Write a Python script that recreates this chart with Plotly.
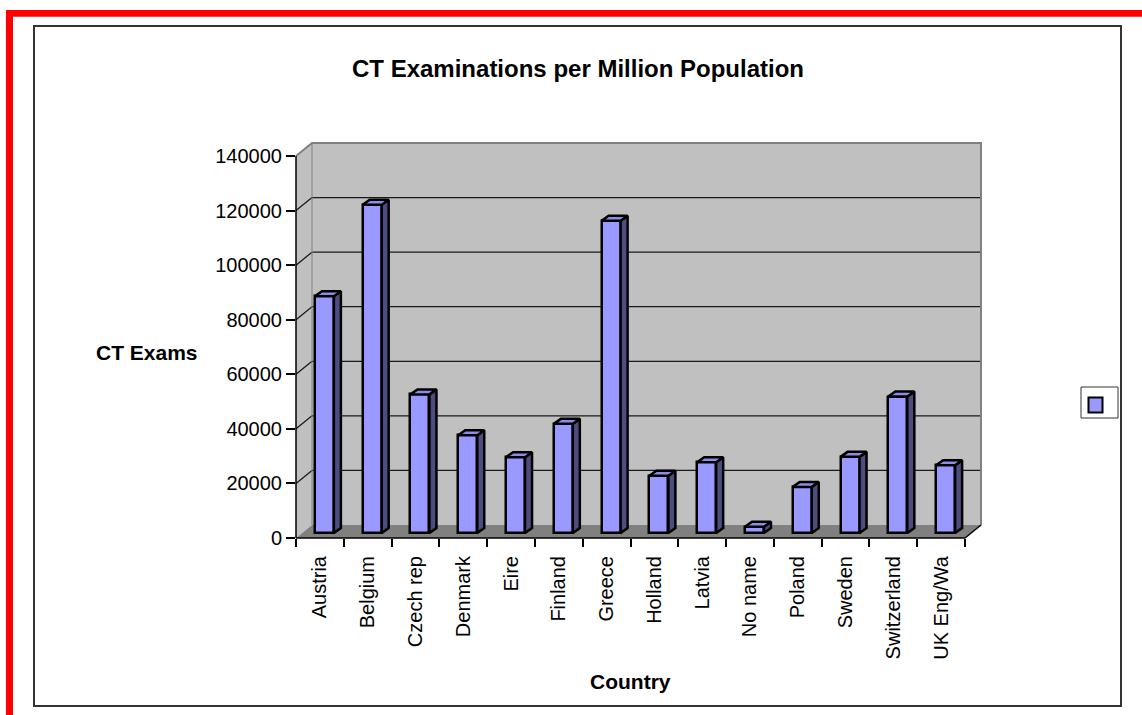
import plotly.graph_objects as go

# ---------------- data ----------------
countries = ["Austria", "Belgium", "Czech rep", "Denmark", "Eire", "Finland", "Greece",
             "Holland", "Latvia", "No name", "Poland", "Sweden", "Switzerland", "UK Eng/Wa"]
ct_exams = [86800, 120300, 50800, 35800, 27800, 40000, 114400,
            21000, 25900, 2300, 16900, 27900, 50000, 24800]
y_ticks = [0, 20000, 40000, 60000, 80000, 100000, 120000, 140000]
y_tick_labels = [str(v) for v in y_ticks]

# ---------------- geometry (pixels) ----------------
W, H = 1142, 715
FRONT_L, FRONT_R = 296, 965       # front category axis
FRONT_BOTTOM, FRONT_TOP = 538, 156  # px of 0 and of last tick on front axis
WALL_DX, WALL_DY = 16, 13         # depth of the 3-D box in px
BAR_OFF_X, BAR_OFF_Y = 4.5, 5     # bar front face offset into depth
BAR_DEPTH_X, BAR_DEPTH_Y = 7, 5   # bar depth
BAR_W = 19

n = len(countries)
ux = (FRONT_R - FRONT_L) / n
uy = (FRONT_BOTTOM - FRONT_TOP) / y_ticks[-1]
DX, DY = WALL_DX / ux, WALL_DY / uy
x_lo, x_hi = -0.5, n - 0.5 + DX
y_lo, y_hi = 0, y_ticks[-1] + DY

plot_w = (x_hi - x_lo) * ux
plot_h = (y_hi - y_lo) * uy
m_l = FRONT_L
m_b = H - FRONT_BOTTOM
m_t = H - m_b - plot_h
m_r = W - m_l - plot_w


def px(xd):   # data x -> paper
    return (xd - x_lo) / (x_hi - x_lo)


def py(yd):   # data y -> paper
    return (yd - y_lo) / (y_hi - y_lo)


def ppx(p):   # pixel x -> paper
    return (p - m_l) / plot_w


def ppy(p):   # pixel y -> paper
    return (H - m_b - p) / plot_h


fx, fy = BAR_OFF_X / ux, BAR_OFF_Y / uy
bdx, bdy = BAR_DEPTH_X / ux, BAR_DEPTH_Y / uy
bw = BAR_W / ux

FRONT = "#9999FF"
SIDE = "#4D4D80"
TOP = "#8C8CEB"
EDGE_W = 2.5

fig = go.Figure()

fig.add_trace(go.Bar(
    x=[i + fx for i in range(n)], y=ct_exams, base=fy, width=bw,
    marker=dict(color=FRONT, line=dict(color="black", width=EDGE_W)),
    hoverinfo="skip", showlegend=False))

side_x, side_y, top_x, top_y = [], [], [], []
for i, v in enumerate(ct_exams):
    xl = i + fx - bw / 2
    xr = xl + bw
    b = fy
    t = fy + v
    side_x += [xr, xr + bdx, xr + bdx, xr, xr, None]
    side_y += [b, b + bdy, t + bdy, t, b, None]
    top_x += [xl, xl + bdx, xr + bdx, xr, xl, None]
    top_y += [t, t + bdy, t + bdy, t, t, None]

fig.add_trace(go.Scatter(x=side_x, y=side_y, mode="lines", fill="toself", fillcolor=SIDE,
                         line=dict(color="black", width=EDGE_W), hoverinfo="skip", showlegend=False))
fig.add_trace(go.Scatter(x=top_x, y=top_y, mode="lines", fill="toself", fillcolor=TOP,
                         line=dict(color="black", width=EDGE_W), hoverinfo="skip", showlegend=False))

shapes = []
# outer white panel (drawn first so everything else sits on top)
shapes.append(dict(type="rect", xref="paper", yref="paper", layer="below",
                   x0=ppx(34), x1=ppx(1121), y0=ppy(26), y1=ppy(706),
                   line=dict(color="#333333", width=2), fillcolor="white"))
# back wall
shapes.append(dict(type="rect", xref="paper", yref="paper", layer="below",
                   x0=px(x_lo + DX), x1=px(x_hi), y0=py(DY), y1=py(y_hi),
                   fillcolor="#C0C0C0", line=dict(width=0)))
# left wall
shapes.append(dict(type="path", xref="paper", yref="paper", layer="below",
                   path=f"M{px(x_lo)},{py(0)} L{px(x_lo + DX)},{py(DY)} L{px(x_lo + DX)},{py(y_hi)} "
                        f"L{px(x_lo)},{py(y_ticks[-1])} Z",
                   fillcolor="#C0C0C0", line=dict(width=0)))
# floor
shapes.append(dict(type="path", xref="paper", yref="paper", layer="below",
                   path=f"M{px(x_lo)},{py(0)} L{px(n - 0.5)},{py(0)} L{px(x_hi)},{py(DY)} "
                        f"L{px(x_lo + DX)},{py(DY)} Z",
                   fillcolor="#808080", line=dict(width=0)))
# gridlines
for v in y_ticks[1:-1]:
    shapes.append(dict(type="line", xref="paper", yref="paper", layer="below",
                       x0=px(x_lo + DX), x1=px(x_hi), y0=py(v + DY), y1=py(v + DY),
                       line=dict(color="#1a1a1a", width=1.3)))
    shapes.append(dict(type="line", xref="paper", yref="paper", layer="below",
                       x0=px(x_lo), x1=px(x_lo + DX), y0=py(v), y1=py(v + DY),
                       line=dict(color="#1a1a1a", width=1.3)))
# wall borders (gray)
shapes.append(dict(type="path", xref="paper", yref="paper", layer="below",
                   path=f"M{px(x_lo)},{py(y_ticks[-1])} L{px(x_lo + DX)},{py(y_hi)} "
                        f"L{px(x_hi)},{py(y_hi)} L{px(x_hi)},{py(DY)}",
                   line=dict(color="#808080", width=2)))
shapes.append(dict(type="line", xref="paper", yref="paper", layer="below",
                   x0=px(x_lo + DX), x1=px(x_lo + DX), y0=py(DY), y1=py(y_hi),
                   line=dict(color="#808080", width=1)))
# front axes (black)
shapes.append(dict(type="line", xref="paper", yref="paper",
                   x0=px(x_lo), x1=px(x_lo), y0=py(0), y1=py(y_ticks[-1]),
                   line=dict(color="black", width=1.5)))
shapes.append(dict(type="line", xref="paper", yref="paper",
                   x0=px(x_lo), x1=px(n - 0.5), y0=py(0), y1=py(0),
                   line=dict(color="black", width=1.5)))
shapes.append(dict(type="line", xref="paper", yref="paper",
                   x0=px(n - 0.5), x1=px(x_hi), y0=py(0), y1=py(DY),
                   line=dict(color="black", width=1.5)))

# red frame
shapes.append(dict(type="rect", xref="paper", yref="paper",
                   x0=ppx(6), x1=ppx(1150), y0=ppy(10), y1=ppy(16.7),
                   line=dict(width=0), fillcolor="#FF0000"))
shapes.append(dict(type="rect", xref="paper", yref="paper",
                   x0=ppx(6), x1=ppx(13), y0=ppy(10), y1=ppy(720),
                   line=dict(width=0), fillcolor="#FF0000"))
# legend box
shapes.append(dict(type="rect", xref="paper", yref="paper",
                   x0=ppx(1081), x1=ppx(1118), y0=ppy(387), y1=ppy(418),
                   line=dict(color="#333333", width=1), fillcolor="white"))
shapes.append(dict(type="rect", xref="paper", yref="paper",
                   x0=ppx(1088.5), x1=ppx(1102.5), y0=ppy(397.5), y1=ppy(412.5),
                   line=dict(color="black", width=2), fillcolor=FRONT))

FONT = "Liberation Sans, Arial, sans-serif"
annotations = [
    dict(text="<b>CT Examinations per Million Population</b>", xref="paper", yref="paper",
         x=ppx(577.5), y=ppy(68), xanchor="center", yanchor="middle", showarrow=False,
         font=dict(family=FONT, size=24, color="black")),
    dict(text="<b>CT Exams</b>", xref="paper", yref="paper",
         x=ppx(147), y=ppy(352), xanchor="center", yanchor="middle", showarrow=False,
         font=dict(family=FONT, size=21, color="black")),
    dict(text="<b>Country</b>", xref="paper", yref="paper",
         x=ppx(630), y=ppy(681), xanchor="center", yanchor="middle", showarrow=False,
         font=dict(family=FONT, size=21, color="black")),
]

fig.update_layout(
    width=W, height=H,
    margin=dict(l=m_l, r=m_r, t=m_t, b=m_b, pad=0, autoexpand=False),
    paper_bgcolor="white", plot_bgcolor="rgba(0,0,0,0)",
    shapes=shapes, annotations=annotations, showlegend=False,
    bargap=0,
    xaxis=dict(range=[x_lo, x_hi], tickvals=list(range(n)), ticktext=countries,
               tickangle=-90, ticks="outside", ticklen=9, tickcolor="rgba(0,0,0,0)",
               showgrid=False, zeroline=False, showline=False, automargin=False,
               tickfont=dict(family=FONT, size=20, color="black"),
               minor=dict(tickmode="array", tickvals=[i - 0.5 for i in range(n + 1)],
                          ticks="outside", ticklen=8, tickcolor="black", tickwidth=1.5,
                          showgrid=False),
               fixedrange=True),
    yaxis=dict(range=[y_lo, y_hi], tickvals=y_ticks, ticktext=y_tick_labels,
               ticks="outside", ticklen=9,
               tickcolor="black", tickwidth=1.5, showgrid=False, zeroline=False,
               showline=False, automargin=False,
               tickfont=dict(family=FONT, size=20, color="black"), fixedrange=True),
)

fig.write_html("out.html", config={"displayModeBar": False},
               post_script="document.body.style.margin='0';document.body.style.overflow='hidden';")
